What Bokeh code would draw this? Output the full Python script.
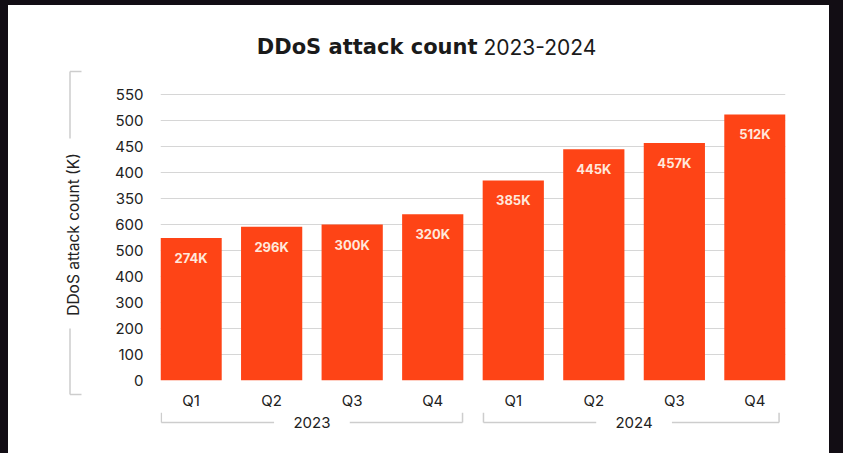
from math import pi
from bokeh.plotting import figure
from bokeh.models import Range1d, FixedTicker
from bokeh.layouts import column, row
from bokeh.embed import file_html
from bokeh.resources import INLINE
from bokeh.core.properties import value

# ---- data ----
quarters = ["Q1", "Q2", "Q3", "Q4", "Q1", "Q2", "Q3", "Q4"]
quarter_year = ["2023", "2023", "2023", "2023", "2024", "2024", "2024", "2024"]
years = ["2023", "2024"]
attacks_k = [274, 296, 300, 320, 385, 445, 457, 512]
bar_labels = ["274K", "296K", "300K", "320K", "385K", "445K", "457K", "512K"]
y_tick_values = [0, 50, 100, 150, 200, 250, 300, 350, 400, 450, 500, 550]
y_tick_labels = ["0", "100", "200", "300", "400", "500", "600",
                 "350", "400", "450", "500", "550"]
title_bold = "DDoS attack count"
title_rest = "2023-2024"
y_title = "DDoS attack count (K)"

# ---- styling ----
FONT = "Inter"
BAR = "#fe4416"
GRID = "#d6d6d6"
BRACKET = "#cdcdcd"
TEXT = "#222222"
DARK = "#120d14"

BAR_W = 0.76
xs = list(range(len(attacks_k)))
x_range = Range1d(-BAR_W / 2, len(attacks_k) - 1 + BAR_W / 2)


def style(f):
    f.outline_line_color = None
    f.outline_line_alpha = 0
    f.outline_line_width = 0
    f.background_fill_color = "white"
    f.border_fill_color = "white"
    return f


def blank(width, height, xr, yr, left=0, right=0):
    f = figure(width=width, height=height, output_backend="svg",
               toolbar_location=None, x_range=xr, y_range=yr,
               x_axis_type=None, y_axis_type=None,
               min_border_left=left, min_border_right=right,
               min_border_top=0, min_border_bottom=0)
    return style(f)


# ---- title strip (page y 5..66) ----
tt = blank(821, 61, Range1d(0, 821), Range1d(0, 61))
tt.text(x=[469], y=[20], text=[title_bold], text_align="right",
        text_baseline="middle", text_font=value("DejaVu Sans"), text_font_style="bold",
        text_font_size="21px", text_color="#1a1a1a")
tt.text(x=[475], y=[20], text=[title_rest], text_align="left",
        text_baseline="middle", text_font=value(FONT),
        text_font_size="21px", text_color="#1a1a1a")

# ---- y-title strip (page x 8..100, y 66..453) ----
yl = blank(92, 387, Range1d(0, 92), Range1d(0, 387))
yl.text(x=[65], y=[219], text=[y_title], angle=pi / 2,
        text_align="center", text_baseline="middle", text_font=value(FONT),
        text_font_size="15.5px", text_color=TEXT)
yl.segment(x0=[61.5, 61.5, 61.5, 61.5], y0=[382, 382, 125, 59],
           x1=[73, 61.5, 61.5, 73], y1=[382, 315, 59, 59],
           line_color=BRACKET, line_width=1.5)

# ---- main chart (page x 100..829, y 66..412) ----
p = figure(width=729, height=346, output_backend="svg", toolbar_location=None,
           x_range=x_range, y_range=Range1d(0, 560),
           min_border_left=60, min_border_right=44,
           min_border_top=23, min_border_bottom=30)
style(p)

p.vbar(x=xs, top=attacks_k, width=BAR_W, color=BAR, line_color=None)
p.text(x=xs, y=attacks_k, text=bar_labels, y_offset=20,
       text_align="center", text_baseline="middle",
       text_font=value(FONT), text_font_style="bold",
       text_font_size="13px", text_color="#ffe8dc")

p.yaxis.ticker = FixedTicker(ticks=y_tick_values)
p.yaxis.major_label_overrides = {v: l for v, l in zip(y_tick_values, y_tick_labels)}
p.yaxis.axis_line_color = None
p.yaxis.major_tick_line_color = None
p.yaxis.minor_tick_line_color = None
p.yaxis.major_tick_out = 0
p.yaxis.major_tick_in = 0
p.yaxis.major_label_standoff = 17
p.yaxis.major_label_text_font = FONT
p.yaxis.major_label_text_font_size = "15px"
p.yaxis.major_label_text_color = TEXT

p.xaxis.ticker = FixedTicker(ticks=xs)
p.xaxis.major_label_overrides = {i: q for i, q in zip(xs, quarters)}
p.xaxis.axis_line_color = None
p.xaxis.major_tick_line_color = None
p.xaxis.minor_tick_line_color = None
p.xaxis.major_tick_out = 0
p.xaxis.major_tick_in = 0
p.xaxis.major_label_standoff = 10
p.xaxis.major_label_text_font = FONT
p.xaxis.major_label_text_font_size = "15px"
p.xaxis.major_label_text_color = TEXT

p.xgrid.grid_line_color = None
p.ygrid.ticker = FixedTicker(ticks=y_tick_values)
p.ygrid.grid_line_color = GRID
p.ygrid.grid_line_width = 1

# ---- year strip (page x 100..829, y 412..453), shares the x scale ----
yr = blank(729, 41, x_range, Range1d(0, 41), left=60, right=44)
year_x, bl, br = [], [], []
for y_ in years:
    idx = [i for i, q in enumerate(quarter_year) if q == y_]
    year_x.append(sum(idx) / len(idx))
    bl.append(min(idx) - BAR_W / 2 + 0.01)
    br.append(max(idx) + BAR_W / 2 - 0.01)
br[-1] -= 0.07
yr.text(x=year_x, y=[31.5] * len(years), text=years, text_align="center",
        text_baseline="middle", text_font=value(FONT),
        text_font_size="15px", text_color=TEXT)
gap = 0.47
yr.segment(x0=bl + br, y0=[41] * 4, x1=bl + br, y1=[31] * 4,
           line_color=BRACKET, line_width=1.5)
yr.segment(x0=bl, y0=[31] * 2, x1=[c - gap for c in year_x], y1=[31] * 2,
           line_color=BRACKET, line_width=1.5)
yr.segment(x0=[c + gap for c in year_x], y0=[31] * 2, x1=br, y1=[31] * 2,
           line_color=BRACKET, line_width=1.5)

inner = column(tt, row(yl, column(p, yr, spacing=0), spacing=0), spacing=0,
               styles={"background-color": "white"})
layout = column(inner, styles={"background-color": DARK,
                               "padding": "5px 14px 0px 8px"})

open("out.html", "w").write(file_html(layout, INLINE))
